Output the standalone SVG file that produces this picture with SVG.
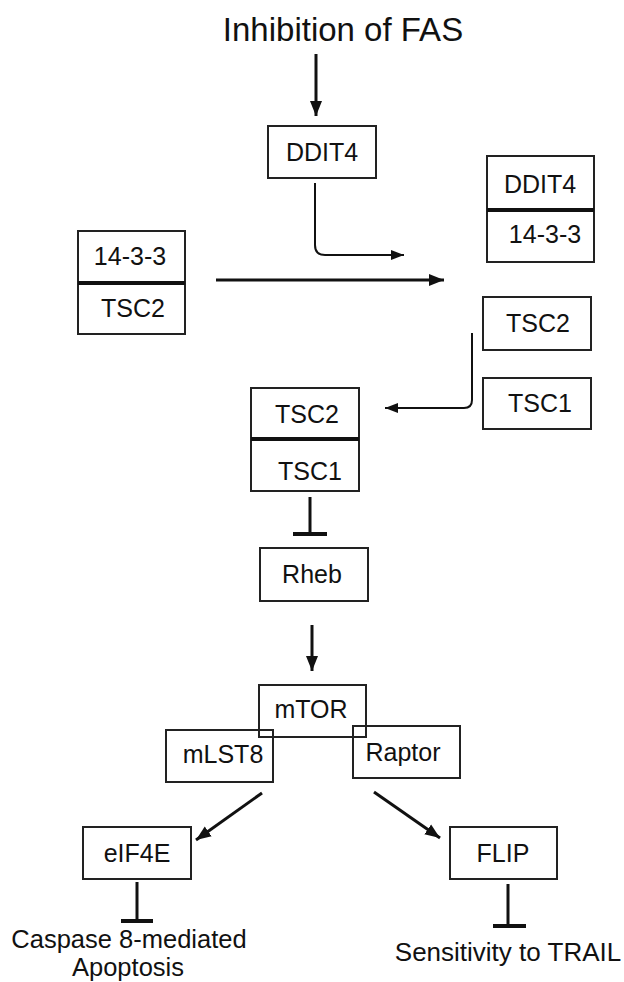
<svg xmlns="http://www.w3.org/2000/svg" width="624" height="982" viewBox="0 0 624 982">
<style>
text{font-family:"Liberation Sans",Arial,sans-serif;fill:#111;text-anchor:middle}
.lbl{font-size:25px}
.big{font-size:26px}
.cap{font-size:25.5px}
.title{font-size:33px}
.box{fill:none;stroke:#222;stroke-width:2}
.div{stroke:#111;stroke-width:4}
.thick{fill:none;stroke:#111;stroke-width:3}
.thin{fill:none;stroke:#111;stroke-width:2}
</style>
<defs>
<marker id="ah" markerUnits="userSpaceOnUse" markerWidth="16" markerHeight="14" refX="15" refY="7" orient="auto">
<path d="M0,1 L15,7 L0,13 Z" fill="#111"/>
</marker>
<marker id="ahs" markerUnits="userSpaceOnUse" markerWidth="14" markerHeight="12" refX="13" refY="6" orient="auto">
<path d="M0,1 L13,6 L0,11 Z" fill="#111"/>
</marker>
</defs>
<text class="title" x="343" y="41">Inhibition of FAS</text>
<g id="connectors">
<line class="thick" x1="316" y1="54" x2="316" y2="116" marker-end="url(#ah)"/>
<path class="thin" d="M315,183 V245 Q315,255 325,255 H404" marker-end="url(#ahs)"/>
<line class="thick" x1="216" y1="280" x2="444" y2="280" marker-end="url(#ah)"/>
<path class="thin" d="M472,333 V400 Q472,408 464,408 H385" marker-end="url(#ahs)"/>
<line class="thick" x1="310" y1="497" x2="310" y2="534"/>
<line class="thick" x1="293" y1="534" x2="327" y2="534" style="stroke-width:4"/>
<line class="thick" x1="312" y1="625" x2="312" y2="671" marker-end="url(#ah)"/>
<line class="thick" x1="262" y1="793" x2="196" y2="840" marker-end="url(#ah)"/>
<line class="thick" x1="374" y1="792" x2="440" y2="838" marker-end="url(#ah)"/>
<line class="thick" x1="137" y1="882" x2="137" y2="921"/>
<line class="thick" x1="121" y1="921" x2="153" y2="921" style="stroke-width:4"/>
<line class="thick" x1="508" y1="884" x2="508" y2="926"/>
<line class="thick" x1="493" y1="926" x2="526" y2="926" style="stroke-width:4"/>
</g>
<g id="ddit4">
<rect class="box" x="268" y="126" width="108" height="52"/>
<text class="lbl" x="322" y="161">DDIT4</text>
</g>
<g id="ddit4-1433">
<rect class="box" x="487" y="156" width="107" height="106"/>
<line class="div" x1="487" y1="210" x2="594" y2="210"/>
<text class="lbl" x="540" y="193">DDIT4</text>
<text class="lbl" x="545" y="243">14-3-3</text>
</g>
<g id="1433-tsc2">
<rect class="box" x="78" y="231" width="107" height="103"/>
<line class="div" x1="78" y1="283" x2="185" y2="283"/>
<text class="lbl" x="130" y="265">14-3-3</text>
<text class="lbl" x="133" y="317">TSC2</text>
</g>
<g id="tsc2-free">
<rect class="box" x="483" y="297" width="108" height="53"/>
<text class="lbl" x="538" y="332">TSC2</text>
</g>
<g id="tsc1-free">
<rect class="box" x="483" y="378" width="108" height="51"/>
<text class="lbl" x="540" y="412">TSC1</text>
</g>
<g id="tsc2-tsc1">
<rect class="box" x="251" y="388" width="108" height="103"/>
<line class="div" x1="251" y1="439" x2="359" y2="439"/>
<text class="lbl" x="307" y="423">TSC2</text>
<text class="lbl" x="310" y="480">TSC1</text>
</g>
<g id="rheb">
<rect class="box" x="260" y="548" width="108" height="53"/>
<text class="lbl" x="312" y="583">Rheb</text>
</g>
<g id="mtor">
<rect class="box" x="259" y="685" width="107" height="52"/>
<text class="lbl" x="311" y="718">mTOR</text>
</g>
<g id="mlst8">
<rect class="box" x="166" y="730" width="107" height="52"/>
<text class="lbl" x="223" y="763">mLST8</text>
</g>
<g id="raptor">
<rect class="box" x="353" y="726" width="107" height="52"/>
<text class="lbl" x="403" y="761">Raptor</text>
</g>
<g id="eif4e">
<rect class="box" x="83" y="827" width="108" height="52"/>
<text class="lbl" x="137" y="862">eIF4E</text>
</g>
<g id="flip">
<rect class="box" x="450" y="827" width="107" height="52"/>
<text class="lbl" x="503" y="862">FLIP</text>
</g>
<g id="apoptosis">
<text class="cap" x="129" y="948">Caspase 8-mediated</text>
<text class="cap" x="128" y="976">Apoptosis</text>
</g>
<g id="trail">
<text class="big" x="508" y="961">Sensitivity to TRAIL</text>
</g>
</svg>
